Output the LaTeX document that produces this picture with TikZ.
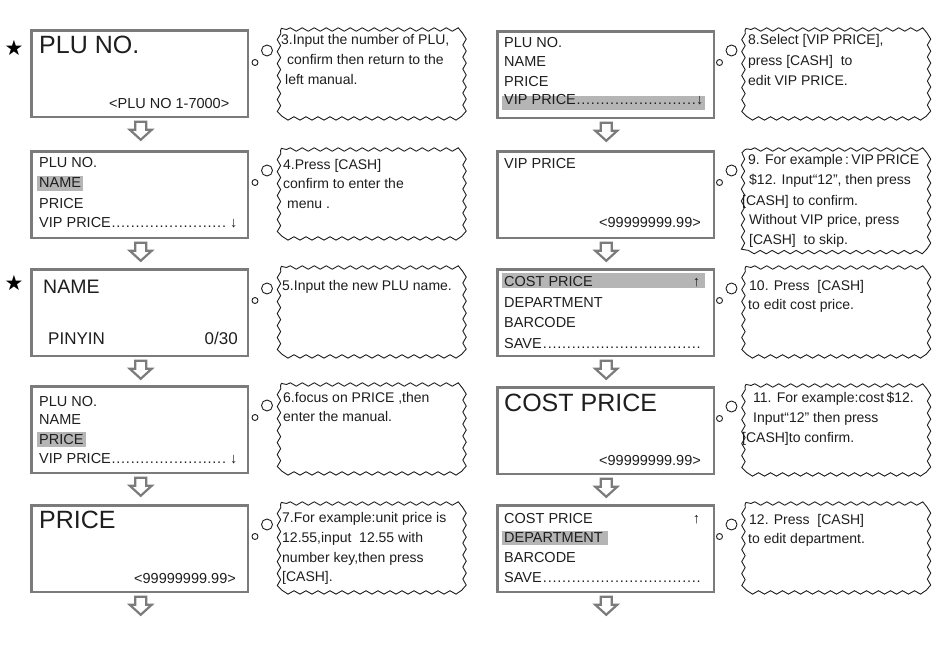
\documentclass[tikz,border=0pt]{standalone}
\usepackage{fontspec}
\setmainfont{Liberation Sans}
\newfontfamily\symfont{DejaVu Sans}
\usetikzlibrary{decorations.pathmorphing,calc}
\definecolor{scr}{HTML}{7B7B7B}
\definecolor{ink}{HTML}{1E1E1E}
\definecolor{hl}{HTML}{B5B5B5}
\newcommand\fsMenu{\fontsize{14.5}{17}\selectfont}
\newcommand\fsCloud{\fontsize{14}{17}\selectfont}
\newcommand\fsBig{\fontsize{25}{30}\selectfont}
\newcommand\dotrow[3]{\makebox[#1][l]{#2\leaders\hbox to 4.8pt{\hss.\hss}\hfill\kern-1pt#3}}
% cloud outline: x1 y1 x2 y2
\newcommand\cloudat[4]{%
  \draw[cloudline] (#1+10,#2) -- (#3-10,#2) .. controls (#3,#2) .. (#3,#2+10)
    -- (#3,#4-10) .. controls (#3,#4) .. (#3-10,#4)
    -- (#1+10,#4) .. controls (#1,#4) .. (#1,#4-10)
    -- (#1,#2+10) .. controls (#1,#2) .. (#1+10,#2);}
\tikzset{
  screen/.style={draw=scr, line width=2.5pt, rectangle, inner sep=0pt, anchor=north west,
    minimum width=216.5pt, minimum height=86.5pt},
  think/.style={rectangle, inner sep=0pt, anchor=north west,
    minimum width=184pt, minimum height=87pt},
  cloudline/.style={draw=ink, line width=0.9pt, decorate,
    decoration={snake, amplitude=1.7pt, segment length=12pt}},
  mtxt/.style={anchor=base west, inner sep=0pt, font=\fsMenu, text=ink},
  rtxt/.style={anchor=base east, inner sep=0pt, font=\fsMenu, text=ink},
  btxt/.style={anchor=base west, inner sep=0pt, font=\fsBig, text=ink},
  ctxt/.style={anchor=base west, inner sep=0pt, font=\fsCloud, text=ink},
  hlbox/.style={fill=hl, draw=none},
  bubble/.style={draw=ink, line width=0.9pt, fill=white},
  arr/.style={draw=scr, line width=2.2pt, fill=white, line join=miter},
  downarr/.pic={\draw[arr] (-5.5,0) -- (-5.5,8) -- (-11,8) -- (0,18) -- (11,8) -- (5.5,8) -- (5.5,0) -- cycle;},
  starmark/.style={inner sep=0pt, font=\symfont\fontsize{21}{21}\selectfont, text=black}
}
\begin{document}
\begin{tikzpicture}[x=1pt,y=-1pt]
\fill[white] (0,0) rectangle (942,647);
\useasboundingbox (0,0) rectangle (942,647);
% top bars
\shade[left color=white, middle color=gray!85, right color=white] (0,0) rectangle (445,3);
\shade[left color=white, middle color=gray!85, right color=white] (475,0) rectangle (922,3);

% ---------- highlights ----------
\fill[hlbox] (37,176) rectangle (83,191);
\fill[hlbox] (37,432) rectangle (86,447);
\fill[hlbox] (502,96) rectangle (705,110);
\fill[hlbox] (502,273) rectangle (705,288);
\fill[hlbox] (502,531) rectangle (608,545);

% ---------- left screens ----------
\node[screen] (L1) at (30.25,29.25) {};
\node[screen] (L2) at (30.25,150.25) {};
\node[screen] (L3) at (30.25,268.25) {};
\node[screen] (L4) at (30.25,385.25) {};
\node[screen] (L5) at (30.25,504.25) {};
% ---------- right screens ----------
\node[screen] (R1) at (496.25,30.25) {};
\node[screen] (R2) at (496.25,150.25) {};
\node[screen] (R3) at (496.25,268.25) {};
\node[screen] (R4) at (496.25,386.25) {};
\node[screen] (R5) at (496.25,504.25) {};

% stars
\node[starmark] (st1) at (14,48) {★};
\node[starmark] (st2) at (14,283) {★};

% arrows
\foreach \b in {L1,L2,L3,L4,L5}{\pic at ($(\b.south)+(1,3.5)$) {downarr};}
\foreach \b in {R1,R2,R3,R4,R5}{\pic at ($(\b.south)+(0.5,3.5)$) {downarr};}

% ---------- screen texts (left) ----------
\node[btxt] (a1) at (39,54) {PLU NO.};
\node[rtxt] (a2) at (229.5,109) {<PLU NO 1-7000>};

\node[mtxt] (b1) at (39,168) {PLU NO.};
\node[mtxt] (b2) at (39,188) {NAME};
\node[mtxt] (b3) at (39,208) {PRICE};
\node[mtxt] (b4) at (39,227) {\dotrow{198pt}{VIP PRICE}{↓}};

\node[anchor=base west, inner sep=0pt, font=\fontsize{19.5}{22}\selectfont, text=ink] (c1) at (43,293) {NAME};
\node[anchor=base west, inner sep=0pt, font=\fontsize{17}{20}\selectfont, text=ink] (c2) at (48,344) {PINYIN};
\node[anchor=base east, inner sep=0pt, font=\fontsize{17}{20}\selectfont, text=ink] (c3) at (238,344) {0/30};

\node[mtxt] (d1) at (39,406) {PLU NO.};
\node[mtxt] (d2) at (39,424.5) {NAME};
\node[mtxt] (d3) at (39,444) {PRICE};
\node[mtxt] (d4) at (39,463) {\dotrow{198pt}{VIP PRICE}{↓}};

\node[btxt] (e1) at (39,528.5) {PRICE};
\node[rtxt] (e2) at (236,583) {<99999999.99>};

% ---------- screen texts (right) ----------
\node[mtxt] (f1) at (504,48) {PLU NO.};
\node[mtxt] (f2) at (504,67) {NAME};
\node[mtxt] (f3) at (504,87) {PRICE};
\node[mtxt] (f4) at (504,105) {\dotrow{199pt}{VIP PRICE}{↓}};

\node[mtxt] (g1) at (504,169) {VIP PRICE};
\node[rtxt] (g2) at (701,228) {<99999999.99>};

\node[mtxt] (h1) at (504,286) {\makebox[196pt][l]{COST PRICE\hfill↑}};
\node[mtxt] (h2) at (504,307) {DEPARTMENT};
\node[mtxt] (h3) at (504,327) {BARCODE};
\node[mtxt] (h4) at (504,348) {\dotrow{196pt}{SAVE}{}};

\node[btxt] (i1) at (504,411) {COST PRICE};
\node[rtxt] (i2) at (701,465) {<99999999.99>};

\node[mtxt] (j1) at (504,523) {\makebox[196pt][l]{COST PRICE\hfill↑}};
\node[mtxt] (j2) at (504,542) {DEPARTMENT};
\node[mtxt] (j3) at (504,562) {BARCODE};
\node[mtxt] (j4) at (504,582) {\dotrow{196pt}{SAVE}{}};

% ---------- thought clouds ----------
\node[think] (K1) at (276.5,29.5) {};
\node[think] (K2) at (276.5,149.5) {};
\node[think] (K3) at (276.5,267.5) {};
\node[think] (K4) at (276.5,384.5) {};
\node[think] (K5) at (276.5,503.5) {};
\node[think] (M1) at (741,29.5) {};
\node[think, minimum height=101pt] (M2) at (741,149.5) {};
\node[think] (M3) at (741,267.5) {};
\node[think] (M4) at (741,385.5) {};
\node[think] (M5) at (741,503.5) {};

\cloudat{276.5}{29.5}{460.5}{116.5}
\cloudat{276.5}{149.5}{460.5}{236.5}
\cloudat{276.5}{267.5}{460.5}{354.5}
\cloudat{276.5}{384.5}{460.5}{471.5}
\cloudat{276.5}{503.5}{460.5}{590.5}
\cloudat{741}{29.5}{925}{116.5}
\cloudat{741}{149.5}{925}{250.5}
\cloudat{741}{267.5}{925}{354.5}
\cloudat{741}{385.5}{925}{472.5}
\cloudat{741}{503.5}{925}{590.5}

\foreach \c in {K1,K2,K3,K4,K5,M1,M2,M3,M4,M5}{
  \draw[bubble] ($(\c.north west)+(-9.5,21)$) circle[radius=5.5pt];
  \draw[bubble] ($(\c.north west)+(-21.5,33)$) circle[radius=3pt];
}

% ---------- cloud texts (left) ----------
\node[ctxt] (p1) at (281,45) {3.Input the number of PLU,};
\node[ctxt] (p2) at (287,65) {confirm then return to the};
\node[ctxt] (p3) at (285,85) {left manual.};

\node[ctxt] (q1) at (283,170) {4.Press [CASH]};
\node[ctxt] (q2) at (283,189) {confirm to enter the};
\node[ctxt] (q3) at (287,208) {menu .};

\node[ctxt] (r1) at (282,290) {5.Input the new PLU name.};

\node[ctxt] (s1) at (283,402) {6.focus on PRICE ,then};
\node[ctxt] (s2) at (283,421) {enter the manual.};

\node[ctxt] (t1) at (282,522) {7.For example:unit price is};
\node[ctxt] (t2) at (282,542) {12.55,input\ \ 12.55 with};
\node[ctxt] (t3) at (282,562) {number key,then press};
\node[ctxt] (t4) at (282,581) {[CASH].};

% ---------- cloud texts (right) ----------
\node[ctxt] (u1) at (748,45) {8.Select [VIP PRICE],};
\node[ctxt] (u2) at (748,66) {press [CASH]\ \ to};
\node[ctxt] (u3) at (748,86) {edit VIP PRICE.};

\node[ctxt] (v1) at (748,165) {9. For example\,:\,VIP\,PRICE};
\node[ctxt] (v2) at (749,185) {\$12. Input“12”, then press};
\node[ctxt] (v3) at (742,205) {[CASH] to confirm.};
\node[ctxt] (v4) at (749,224) {Without VIP price, press};
\node[ctxt] (v5) at (749,244) {[CASH]\ \ to skip.};

\node[ctxt] (w1) at (749,290) {10. Press\ \ [CASH]};
\node[ctxt] (w2) at (748,309) {to edit cost price.};

\node[ctxt] (x1) at (753,402) {11. For example:cost\,\$12.};
\node[ctxt] (x2) at (753,422) {Input“12” then press};
\node[ctxt] (x3) at (742,442) {[CASH]to confirm.};

\node[ctxt] (y1) at (749,524) {12. Press\ \ [CASH]};
\node[ctxt] (y2) at (748,543) {to edit department.};
\end{tikzpicture}
\end{document}
